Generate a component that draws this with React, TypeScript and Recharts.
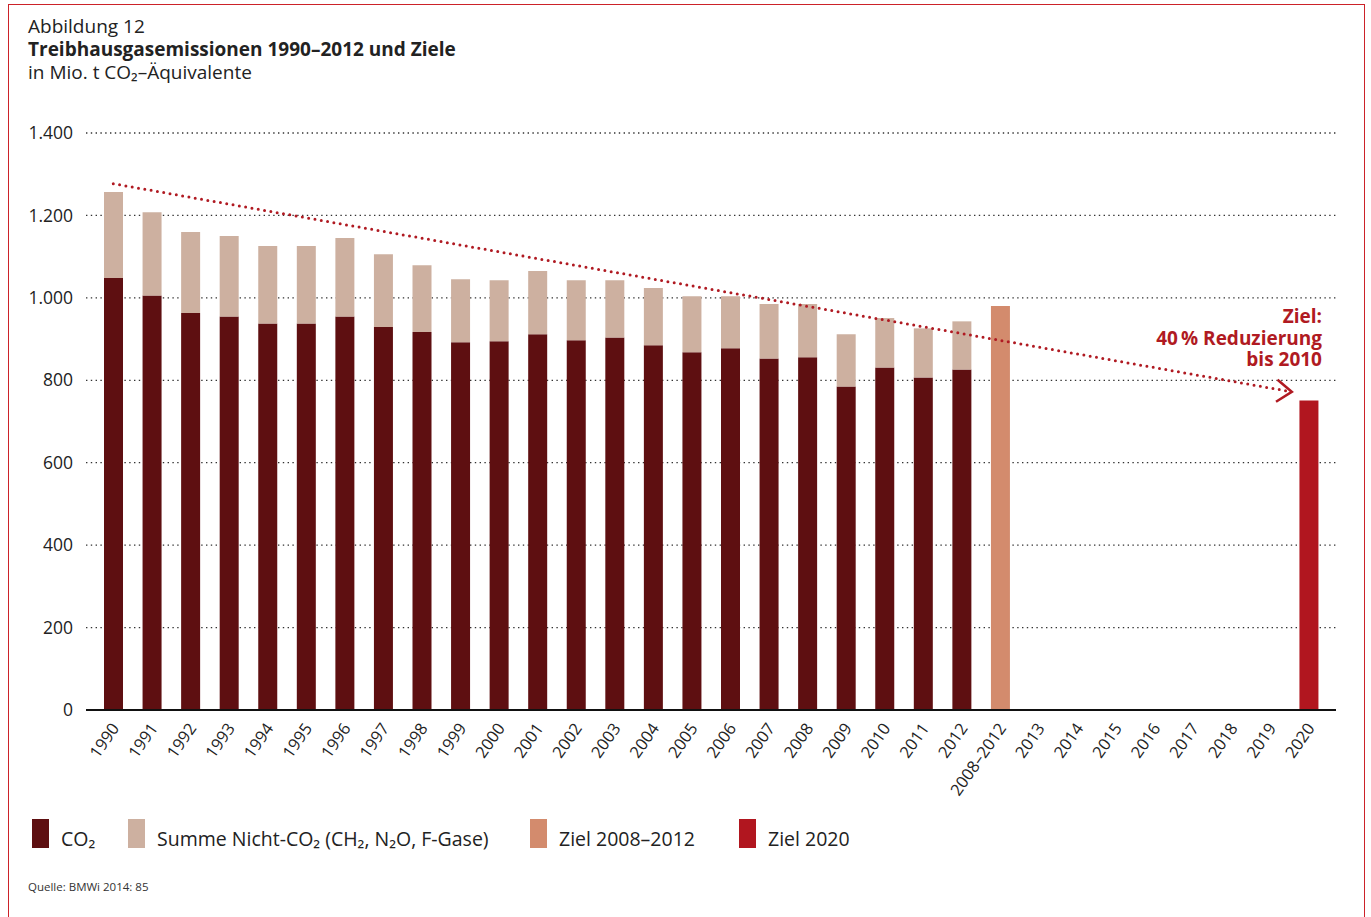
import React from 'react';
import { ComposedChart, Bar, Line, XAxis, YAxis, CartesianGrid } from 'recharts';

const categories = [
  '1990', '1991', '1992', '1993', '1994', '1995', '1996', '1997', '1998', '1999',
  '2000', '2001', '2002', '2003', '2004', '2005', '2006', '2007', '2008', '2009',
  '2010', '2011', '2012', '2008–2012', '2013', '2014', '2015', '2016', '2017',
  '2018', '2019', '2020',
];

// CO2 emissions 1990–2012 (Mio. t)
const co2Values = [
  1048, 1006, 963, 955, 938, 938, 955, 929, 917, 892,
  895, 912, 897, 904, 885, 868, 878, 853, 856, 785,
  831, 807, 826,
];

// Sum of non-CO2 gases 1990–2012 (Mio. t)
const nonCo2Values = [
  209, 202, 197, 195, 188, 188, 190, 177, 162, 153,
  148, 153, 146, 139, 139, 136, 126, 132, 129, 127,
  120, 119, 117,
];

const ziel0812Value = 980;
const ziel2020Value = 751;

// trend arrow: category index and value at start / end
const trendPositions = [0, 30.56];
const trendValues = [1277, 772];

const yTicks = [0, 200, 400, 600, 800, 1000, 1200, 1400];

const chartData = categories.map((cat, i) => ({
  cat,
  co2: i < co2Values.length ? co2Values[i] : null,
  nonco2: i < nonCo2Values.length ? nonCo2Values[i] : null,
  ziel0812: cat === '2008–2012' ? ziel0812Value : null,
  ziel2020: cat === '2020' ? ziel2020Value : null,
}));

const trendData = trendPositions.map((pos, i) => ({ pos, trend: trendValues[i] }));

const COL_CO2 = '#5e0f11';
const COL_NON = '#cdb0a0';
const COL_Z0812 = '#d38b6d';
const COL_Z2020 = '#b1161f';
const COL_RED = '#b01a22';
const FONT = '"Open Sans", "Noto Sans", sans-serif';

const XTick = (props: any) => {
  const { x, y, payload } = props;
  return (
    <g transform={`translate(${x + 2},${y})`}>
      <text
        x={0}
        y={0}
        dy="0.35em"
        transform="rotate(-55)"
        textAnchor="end"
        fontSize={16.5}
        fill="#222"
        fontFamily={FONT}
      >
        {payload.value}
      </text>
    </g>
  );
};

const ArrowDot = (props: any) => {
  const { cx, cy, index } = props;
  if (index !== trendPositions.length - 1 || cx == null) return <g key={`td${index}`} />;
  return (
    <path
      key={`td${index}`}
      d="M -15 -11 L 0 0 L -15 11"
      transform={`translate(${cx},${cy}) rotate(4)`}
      fill="none"
      stroke={COL_RED}
      strokeWidth={2.6}
      strokeLinejoin="miter"
    />
  );
};

const legendItems = [
  { label: 'CO₂', color: COL_CO2, left: 32 },
  { label: 'Summe Nicht-CO₂ (CH₂, N₂O, F-Gase)', color: COL_NON, left: 128 },
  { label: 'Ziel 2008–2012', color: COL_Z0812, left: 530 },
  { label: 'Ziel 2020', color: COL_Z2020, left: 739 },
];

const annotationLines = ['Ziel:', '40\u2009% Reduzierung', 'bis 2010'];

export default function App() {
  return (
    <div
      style={{
        position: 'absolute',
        left: 0,
        top: 0,
        width: 1371,
        height: 917,
        background: '#fff',
        fontFamily: FONT,
        color: '#222',
        overflow: 'hidden',
      }}
    >
      {/* frame */}
      <div
        style={{
          position: 'absolute',
          left: 8,
          top: 4,
          width: 1357,
          height: 1000,
          borderLeft: '1.5px solid #cc2229',
          borderTop: '1.5px solid #cc2229',
          borderRight: '1.5px solid #cc2229',
          boxSizing: 'border-box',
        }}
      />
      {/* title */}
      <div style={{ position: 'absolute', left: 28, top: 15, fontSize: 19, lineHeight: '23px' }}>
        <div>Abbildung 12</div>
        <div style={{ fontWeight: 700 }}>Treibhausgasemissionen 1990–2012 und Ziele</div>
        <div>in Mio. t CO₂–Äquivalente</div>
      </div>

      <div style={{ position: 'absolute', left: 0, top: 0 }}>
        <ComposedChart
          width={1371}
          height={917}
          data={chartData}
          margin={{ top: 133, right: 35, bottom: 107, left: 0 }}
        >
          <CartesianGrid
            vertical={false}
            stroke="#333"
            strokeWidth={1.3}
            strokeDasharray="1.4 3.4"
          />
          <XAxis
            dataKey="cat"
            type="category"
            interval={0}
            height={100}
            padding={{ left: 8, right: 8 }}
            tickLine={false}
            tickSize={0}
            tickMargin={15}
            axisLine={{ stroke: '#111', strokeWidth: 2.2 }}
            tick={<XTick />}
          />
          <XAxis
            xAxisId="trend"
            dataKey="pos"
            type="number"
            domain={[-0.5, categories.length - 0.5]}
            padding={{ left: 8, right: 8 }}
            allowDataOverflow
            hide
          />
          <YAxis
            domain={[0, 1400]}
            ticks={yTicks}
            width={86}
            tickLine={false}
            axisLine={false}
            tickSize={0}
            tickMargin={13}
            tickFormatter={(v: number) => v.toLocaleString('de-DE')}
            tick={{ fontSize: 17.5, fill: '#222', fontFamily: FONT }}
          />
          <Bar dataKey="co2" stackId="a" fill={COL_CO2} barSize={19} isAnimationActive={false} />
          <Bar dataKey="nonco2" stackId="a" fill={COL_NON} barSize={19} isAnimationActive={false} />
          <Bar dataKey="ziel0812" stackId="a" fill={COL_Z0812} barSize={19} isAnimationActive={false} />
          <Bar dataKey="ziel2020" stackId="a" fill={COL_Z2020} barSize={19} isAnimationActive={false} />
          <Line
            xAxisId="trend"
            data={trendData}
            dataKey="trend"
            type="linear"
            stroke={COL_RED}
            strokeWidth={3}
            strokeDasharray="0 6.4"
            strokeLinecap="round"
            dot={<ArrowDot />}
            activeDot={false}
            isAnimationActive={false}
          />
        </ComposedChart>
      </div>

      {/* annotation */}
      {annotationLines.map((line, i) => (
        <div
          key={line}
          style={{
            position: 'absolute',
            right: 1371 - 1322,
            top: 306 + i * 21.5,
            height: 20,
            textAlign: 'right',
            color: COL_RED,
            fontWeight: 700,
            fontSize: 19,
            lineHeight: '20px',
            whiteSpace: 'nowrap',
          }}
        >
          {line}
        </div>
      ))}

      {/* legend */}
      {legendItems.map((it) => (
        <div
          key={it.label}
          style={{
            position: 'absolute',
            left: it.left,
            top: 819,
            display: 'flex',
            alignItems: 'flex-end',
          }}
        >
          <div style={{ width: 17, height: 29, background: it.color }} />
          <span style={{ marginLeft: 12, fontSize: 19.5, lineHeight: 1, whiteSpace: 'nowrap' }}>
            {it.label}
          </span>
        </div>
      ))}

      {/* source */}
      <div style={{ position: 'absolute', left: 28, top: 879, fontSize: 11.5, color: '#333' }}>
        Quelle: BMWi 2014: 85
      </div>
    </div>
  );
}
